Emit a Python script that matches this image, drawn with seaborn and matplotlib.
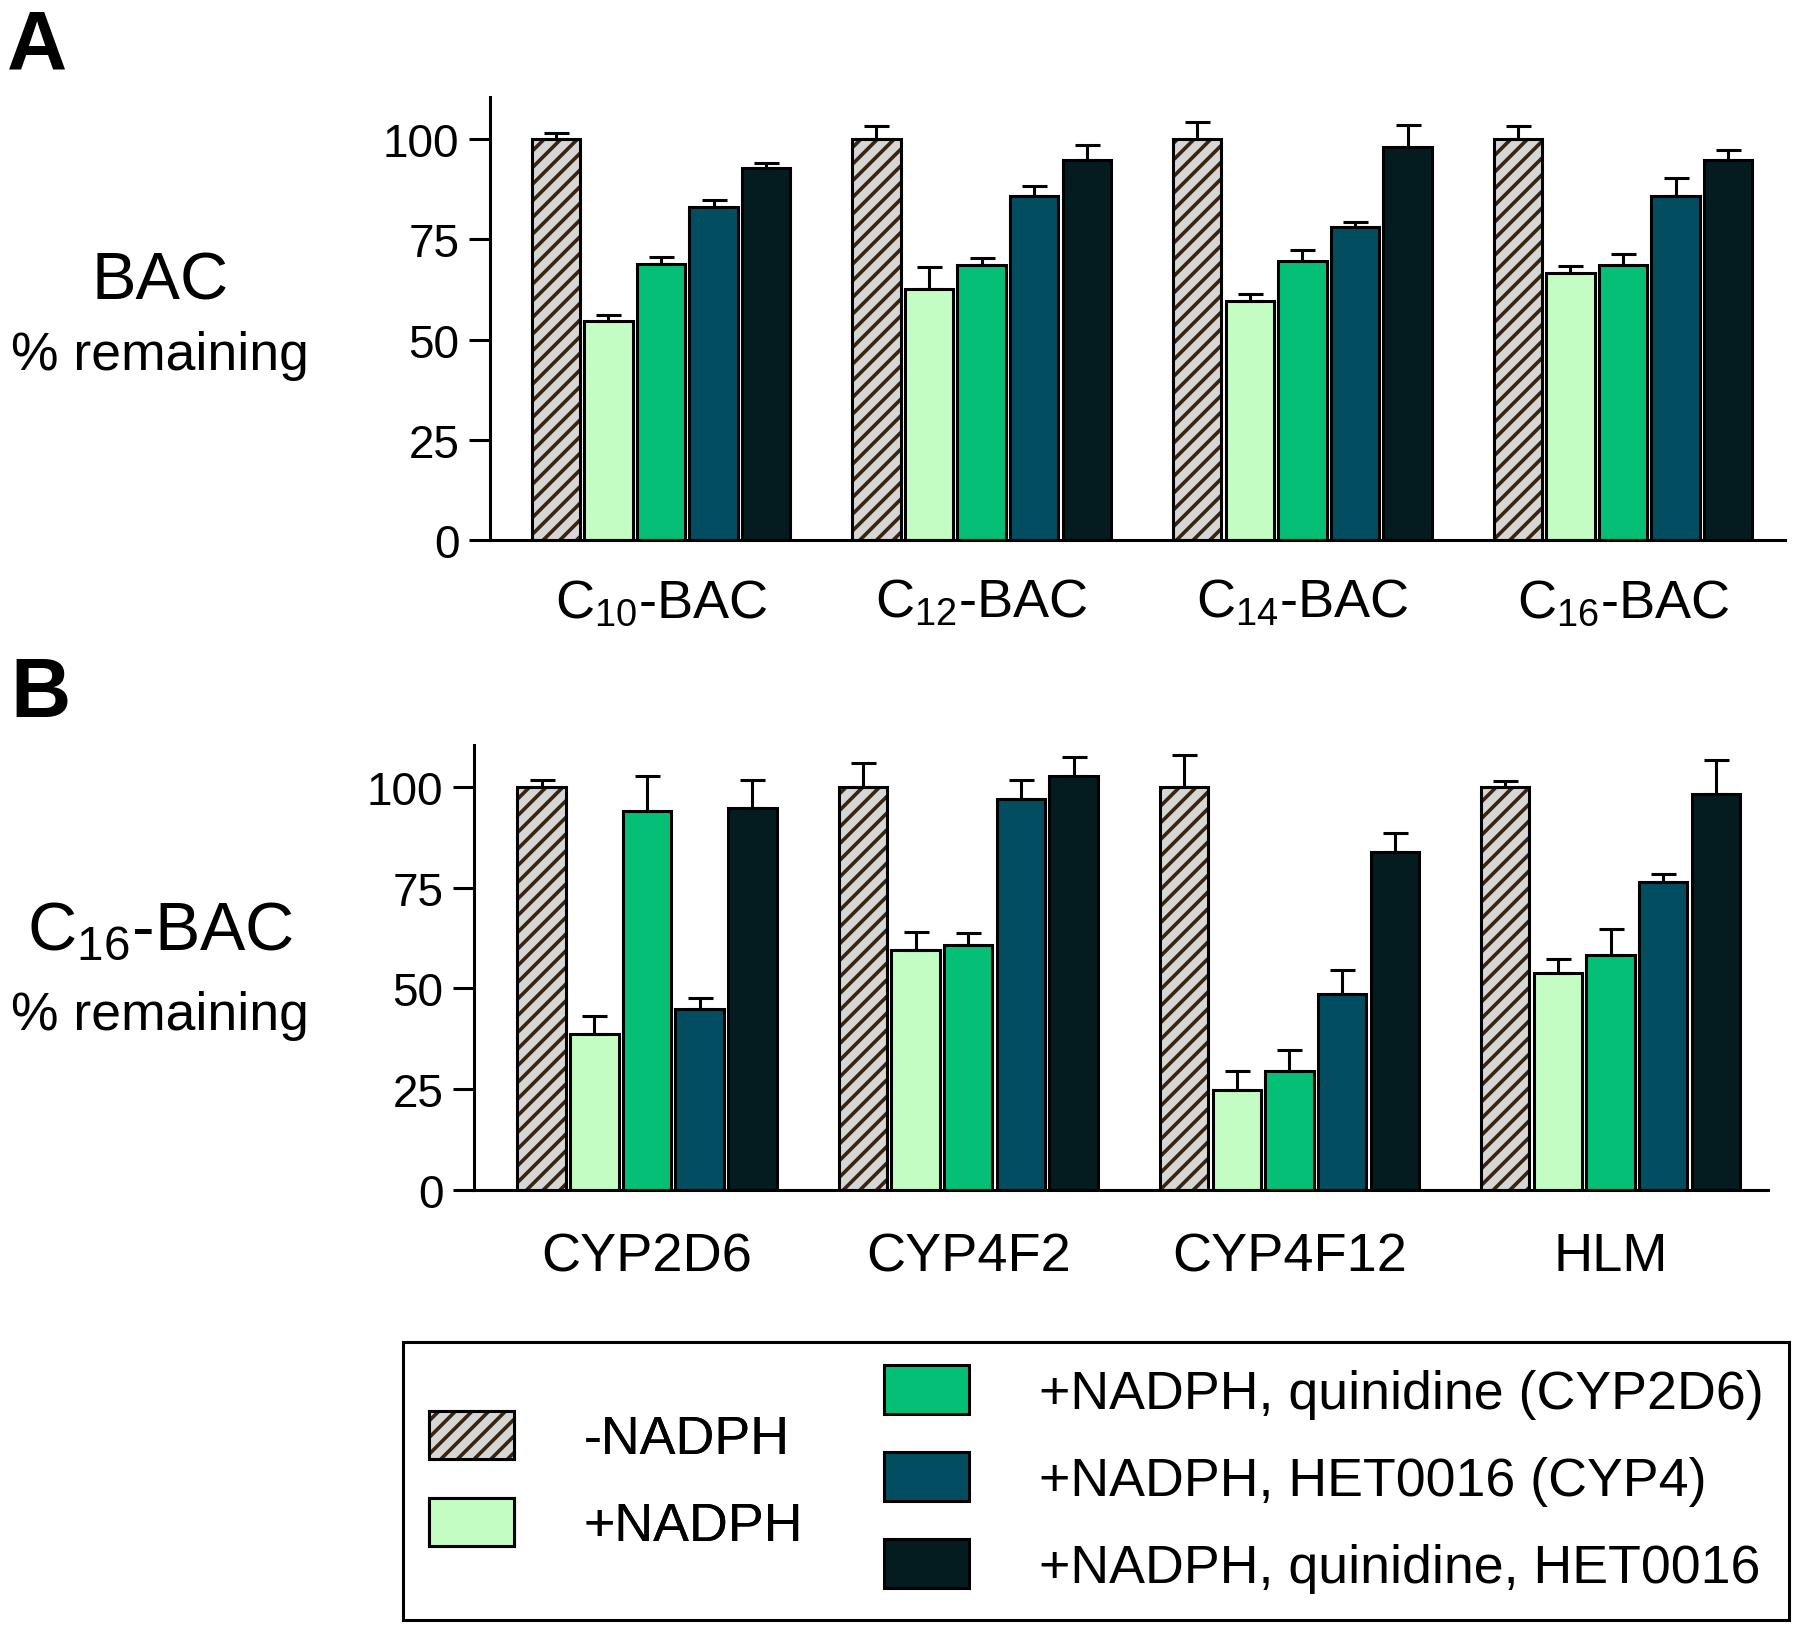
import numpy as np
import pandas as pd
import seaborn as sns
import matplotlib.pyplot as plt
from matplotlib.patches import Patch, Rectangle

# ---- data ----
conditions = ['-NADPH', '+NADPH', '+NADPH, quinidine (CYP2D6)',
              '+NADPH, HET0016 (CYP4)', '+NADPH, quinidine, HET0016']
colors = ['#d6d6d6', '#c4fdc4', '#06bf76', '#034d61', '#041b20']

bac_groups = ['C$_{10}$-BAC', 'C$_{12}$-BAC', 'C$_{14}$-BAC', 'C$_{16}$-BAC']
bac_mean = [[100, 54.7, 68.8, 83.0, 92.9],
            [100, 62.6, 68.7, 85.8, 94.8],
            [100, 59.6, 69.6, 78.0, 97.9],
            [100, 66.5, 68.7, 85.8, 94.8]]
bac_err = [[1.5, 1.4, 1.8, 1.8, 1.1],
           [3.2, 5.6, 1.7, 2.5, 3.7],
           [4.2, 1.7, 2.7, 1.4, 5.6],
           [3.2, 1.8, 2.7, 4.4, 2.5]]

enz_groups = ['CYP2D6', 'CYP4F2', 'CYP4F12', 'HLM']
enz_mean = [[100, 38.6, 94.2, 44.8, 94.8],
            [100, 59.5, 60.7, 97.1, 102.9],
            [100, 24.8, 29.6, 48.5, 84.0],
            [100, 53.9, 58.3, 76.4, 98.3]]
enz_err = [[1.8, 4.5, 8.5, 2.9, 6.9],
           [6.1, 4.4, 3.1, 4.6, 4.5],
           [8.0, 4.6, 5.0, 6.2, 4.6],
           [1.6, 3.3, 6.5, 2.0, 8.5]]

sns.set_theme(style='ticks')
plt.rcParams['font.family'] = ['Liberation Sans', 'DejaVu Sans']
plt.rcParams['mathtext.default'] = 'regular'
plt.rcParams['hatch.linewidth'] = 2.6
for k in ['text.color', 'axes.labelcolor', 'xtick.color', 'ytick.color',
          'axes.edgecolor']:
    plt.rcParams[k] = 'black'

HATCH_COLOR = (0.22, 0.14, 0.06, 1.0)
LW = 2.2


def to_long(groups, means):
    rows = []
    for g, vals in zip(groups, means):
        for c, v in zip(conditions, vals):
            rows.append({'group': g, 'condition': c, 'value': v})
    return pd.DataFrame(rows)


def draw_panel(ax, groups, means, errs, xlim, pad):
    df = to_long(groups, means)
    sns.barplot(data=df, x='group', y='value', hue='condition',
                order=groups, hue_order=conditions,
                palette=dict(zip(conditions, colors)),
                errorbar=None, width=0.82, gap=0.08,
                edgecolor='black', linewidth=LW, legend=False, ax=ax,
                saturation=1)
    errs = np.array(errs)
    bar_sets = list(ax.containers)
    for i, cont in enumerate(bar_sets):
        xs = [b.get_x() + b.get_width() / 2 for b in cont]
        ys = [b.get_height() for b in cont]
        up = errs[:, i]
        ax.errorbar(xs, ys, yerr=[np.zeros_like(up), up], fmt='none',
                    ecolor='black', elinewidth=LW, capsize=9,
                    capthick=LW, zorder=1)
        if i == 0:
            for b in cont:
                b.set_hatch('//')
                b._hatch_color = HATCH_COLOR
    ax.set_ylim(0, 110.5)
    ax.set_xlim(*xlim)
    ax.set_yticks([0, 25, 50, 75, 100])
    ax.set_xlabel('')
    ax.set_ylabel('')
    sns.despine(ax=ax)
    for s in ['left', 'bottom']:
        ax.spines[s].set_linewidth(LW)
        ax.spines[s].set_color('black')
    ax.tick_params(axis='y', length=15, width=LW, pad=7, labelsize=33,
                   color='black', labelcolor='black')
    ax.tick_params(axis='x', length=0, pad=pad, labelsize=39,
                   labelcolor='black')


fig = plt.figure(figsize=(18, 16.33), dpi=100)

ax_a = fig.add_axes([0.2722, 0.6687, 0.7195, 0.2713])
draw_panel(ax_a, bac_groups, bac_mean, bac_err, (-0.533, 3.505), 27)

ax_b = fig.add_axes([0.2633, 0.2709, 0.7189, 0.2723])
draw_panel(ax_b, enz_groups, enz_mean, enz_err, (-0.539, 3.49), 30)

# panel letters and row labels
fig.text(0.004, 0.9577, 'A', fontsize=60, fontweight='bold', va='baseline')
fig.text(0.006, 0.5609, 'B', fontsize=60, fontweight='bold', va='baseline')
fig.text(0.0889, 0.8169, 'BAC', fontsize=48, ha='center', va='baseline')
fig.text(0.0889, 0.7734, '% remaining', fontsize=38.5, ha='center', va='baseline')
fig.text(0.0889, 0.4183, 'C$_{16}$-BAC', fontsize=49, ha='center', va='baseline')
fig.text(0.0889, 0.3693, '% remaining', fontsize=38.5, ha='center', va='baseline')

# legend
handles = []
for i, (c, col) in enumerate(zip(conditions, colors)):
    p = Patch(facecolor=col, edgecolor='black', linewidth=LW,
              hatch='//' if i == 0 else None, label=c)
    if i == 0:
        p._hatch_color = HATCH_COLOR
    handles.append(p)

leg_kw = dict(frameon=False, fontsize=38.7, handlelength=1.58, handleheight=1.02,
              labelspacing=0.62, handletextpad=1.3, borderpad=0,
              borderaxespad=0, loc='center left')
leg1 = fig.legend(handles=handles[:2], bbox_to_anchor=(0.2383, 0.0925), **leg_kw)
fig.legend(handles=handles[2:], bbox_to_anchor=(0.4911, 0.0937), **leg_kw)
fig.add_artist(leg1)
fig.add_artist(Rectangle((0.2239, 0.0074), 0.77, 0.1702, transform=fig.transFigure,
                         fill=False, edgecolor='black', linewidth=LW))

fig.savefig('out.png', dpi=100)
